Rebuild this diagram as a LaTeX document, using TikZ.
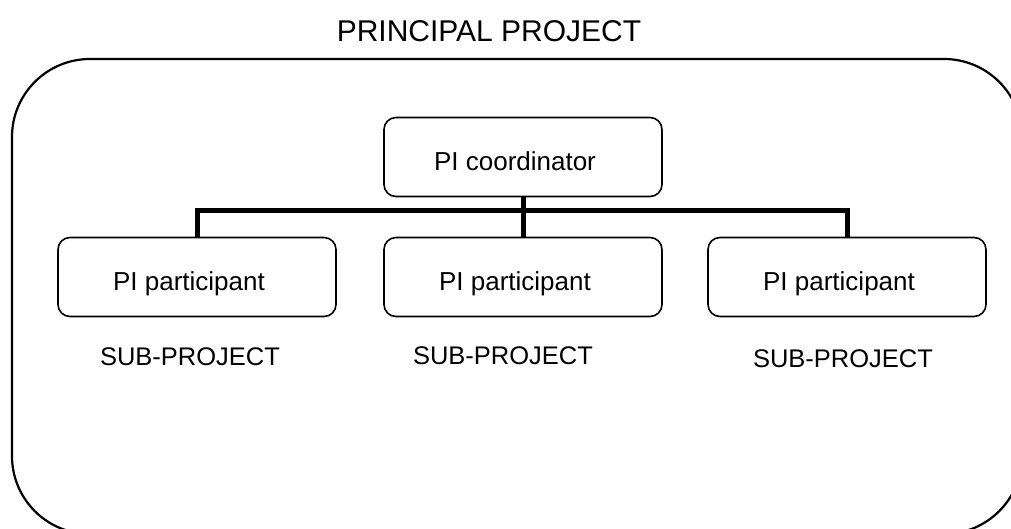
\documentclass[tikz,border=0pt]{standalone}
\usepackage{fontspec}
\setmainfont{Liberation Sans}
\usetikzlibrary{positioning}

\begin{document}
\begin{tikzpicture}[x=1pt, y=-1pt,
    unit/.style={draw, rounded corners=12pt, line width=1.6pt,
      minimum width=278pt, minimum height=79pt,
      text height=27pt, text depth=1pt,
      execute at end node=\hspace*{16pt},
      font=\fontsize{26}{30}\selectfont},
    tag/.style={font=\fontsize{25.5}{30}\selectfont},
    link/.style={line width=5pt}]
        \clip (0,0) rectangle (1011,528);

        % outer frame
        \draw[line width=2.2pt, rounded corners=78pt] (12,59) rectangle (1022,534);
        \node[font=\fontsize{30}{34}\selectfont] (title) at (489,31) {PRINCIPAL PROJECT};

        % coordinator and participants
        \node[unit] (coord) at (523,157) {PI coordinator};
        \node[unit] (part1) at (197,277) {PI participant};
        \node[unit] (part2) at (523,277) {PI participant};
        \node[unit] (part3) at (847,277) {PI participant};

        \node[tag] (sub1) at (190,357) {SUB-PROJECT};
        \node[tag] (sub2) at (503,356) {SUB-PROJECT};
        \node[tag] (sub3) at (843,359) {SUB-PROJECT};

        % tree links
        \coordinate (hub) at (coord.south |- 0,210);
        \draw[link] (coord.south) -- (part2.north);
        \draw[link] (part1.north) |- (hub) -| (part3.north);
\end{tikzpicture}
\end{document}
